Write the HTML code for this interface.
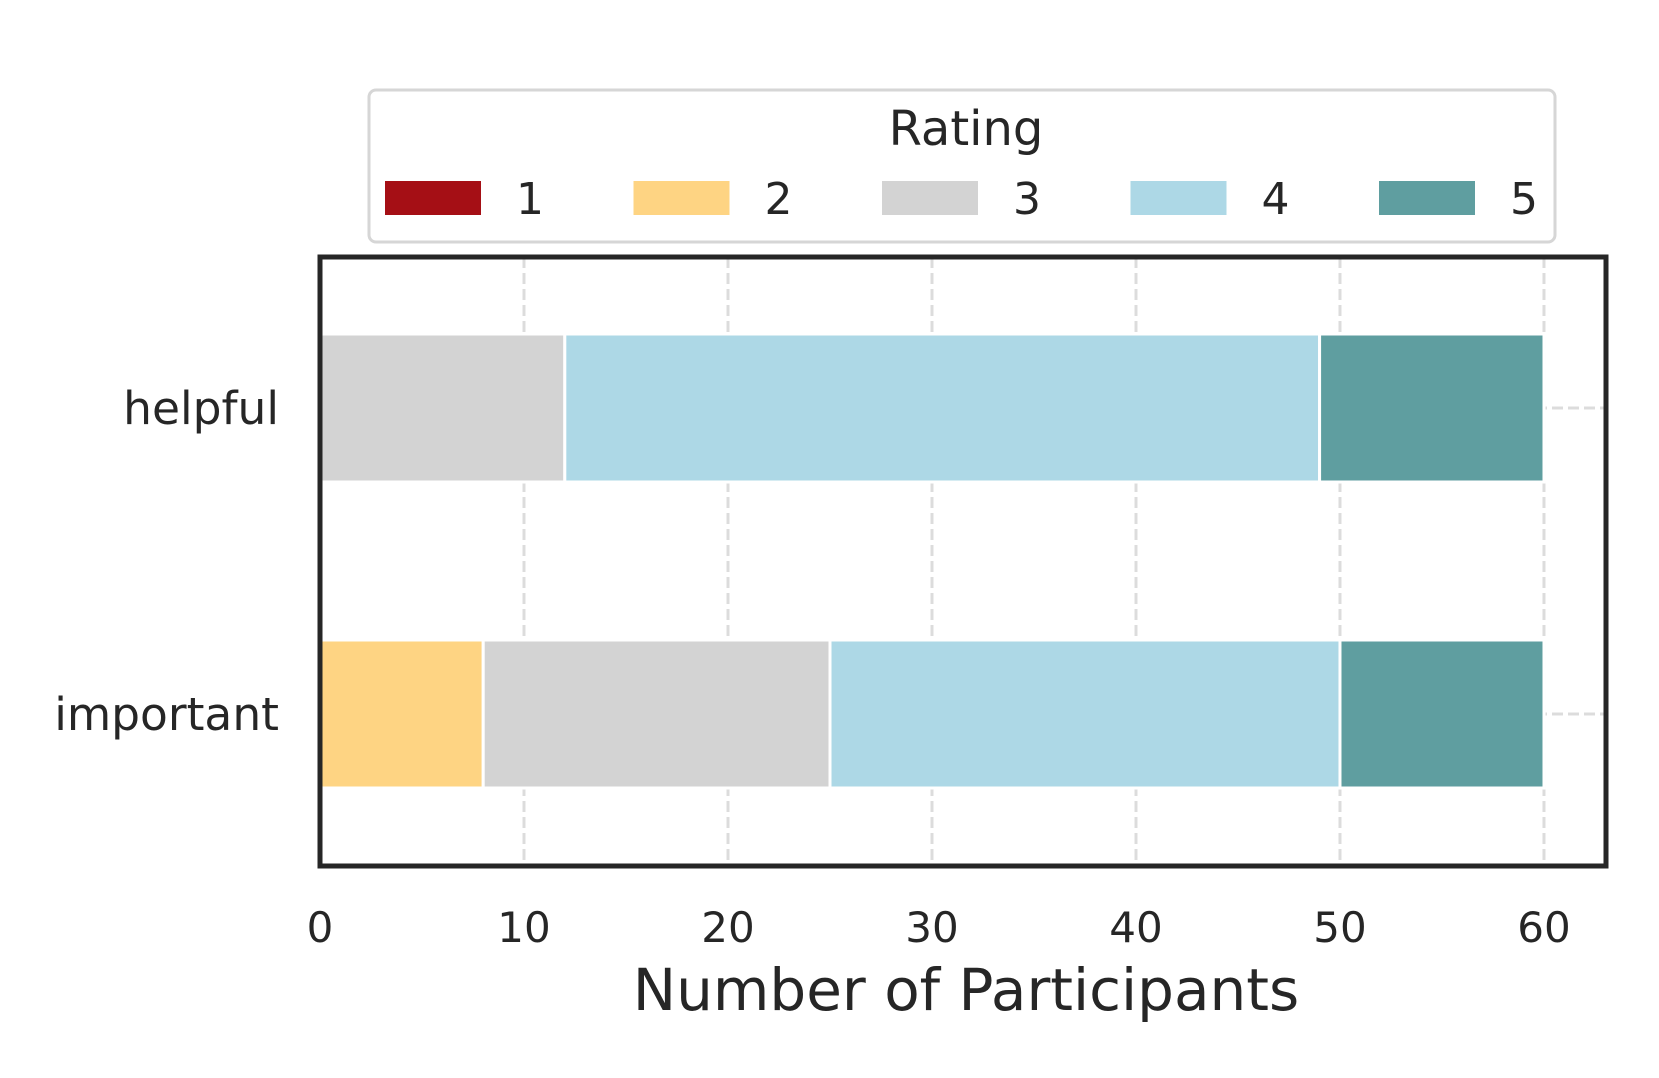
<!DOCTYPE html>
<html><head><meta charset="utf-8"><style>
html,body{margin:0;padding:0;background:#fff;}
svg{display:block;font-family:"DejaVu Sans","Liberation Sans",sans-serif;}
</style></head><body>
<svg id="chart" width="1659" height="1078" viewBox="0 0 1659 1078">
<g id="grid"></g>
<g id="bars"></g>
<rect x="320" y="257" width="1286" height="609" fill="none" stroke="#262626" stroke-width="5"/>
<g id="xticks"></g>
<g id="yticks"></g>
<text x="966" y="1010" font-size="58" fill="#262626" text-anchor="middle">Number of Participants</text>
<g>
<rect x="369" y="90" width="1186" height="152" rx="7" fill="#fff" stroke="#d6d6d6" stroke-width="3"/>
<text x="966" y="145" font-size="48" fill="#262626" text-anchor="middle">Rating</text>
<g id="legend-items"></g>
</g>
</svg>
<script>
const categories = ["helpful", "important"];
const ratings = ["1", "2", "3", "4", "5"];
const colors = ["#a50f15", "#fed483", "#d3d3d3", "#add8e6", "#5f9ea0"];
const r1 = [0, 0];
const r2 = [0, 8];
const r3 = [12, 17];
const r4 = [37, 25];
const r5 = [11, 10];
const xTicks = [0, 10, 20, 30, 40, 50, 60];
const series = [r1, r2, r3, r4, r5];

const NS = "http://www.w3.org/2000/svg";
const X0 = 320, X1 = 1606, XMAX = 63.04;
const Y0 = 257, Y1 = 866;
function xs(v){ return X0 + (X1 - X0) * v / XMAX; }
function yc(i){ return 408 + i * 306; }
const barH = 148;
function mk(tag, attrs, parent){ const e = document.createElementNS(NS, tag); for (const k in attrs) e.setAttribute(k, attrs[k]); parent.appendChild(e); return e; }

const grid = document.getElementById("grid");
xTicks.forEach(t => {
  const l = mk("line", {x1: xs(t), x2: xs(t), y1: Y0, y2: Y1, stroke: "#dcdcdc", "stroke-width": 3, "stroke-dasharray": "11 5"}, grid);
  
  
});
categories.forEach((c, i) => {
  const l = mk("line", {x1: X0, x2: X1, y1: yc(i), y2: yc(i), stroke: "#dcdcdc", "stroke-width": 3, "stroke-dasharray": "11 5"}, grid);
  
  
});

const bars = document.getElementById("bars");
categories.forEach((c, i) => {
  let acc = 0;
  series.forEach((s, k) => {
    const v = s[i];
    if (v > 0) {
      const r = mk("rect", {x: xs(acc), y: yc(i) - barH / 2, width: xs(acc + v) - xs(acc), height: barH, fill: colors[k], stroke: "#fff", "stroke-width": 3}, bars);
      
      
    }
    acc += v;
  });
});

const xt = document.getElementById("xticks");
xTicks.forEach(t => {
  const e = mk("text", {x: xs(t), y: 942, "font-size": 42, fill: "#262626", "text-anchor": "middle"}, xt);
  e.textContent = t;
  
  
});
const yt = document.getElementById("yticks");
categories.forEach((c, i) => {
  const e = mk("text", {x: 279, y: yc(i) + 16, "font-size": 45.5, fill: "#262626", "text-anchor": "end"}, yt);
  e.textContent = c;
  
  
});

const li = document.getElementById("legend-items");
ratings.forEach((r, k) => {
  const x = 385 + k * 248.5;
  const sw = mk("rect", {x: x, y: 181, width: 96, height: 34, fill: colors[k]}, li);
  
  
  const t = mk("text", {x: x + 145, y: 214, "font-size": 44, fill: "#262626", "text-anchor": "middle"}, li);
  t.textContent = r;
  
  
});
</script>
</body></html>
